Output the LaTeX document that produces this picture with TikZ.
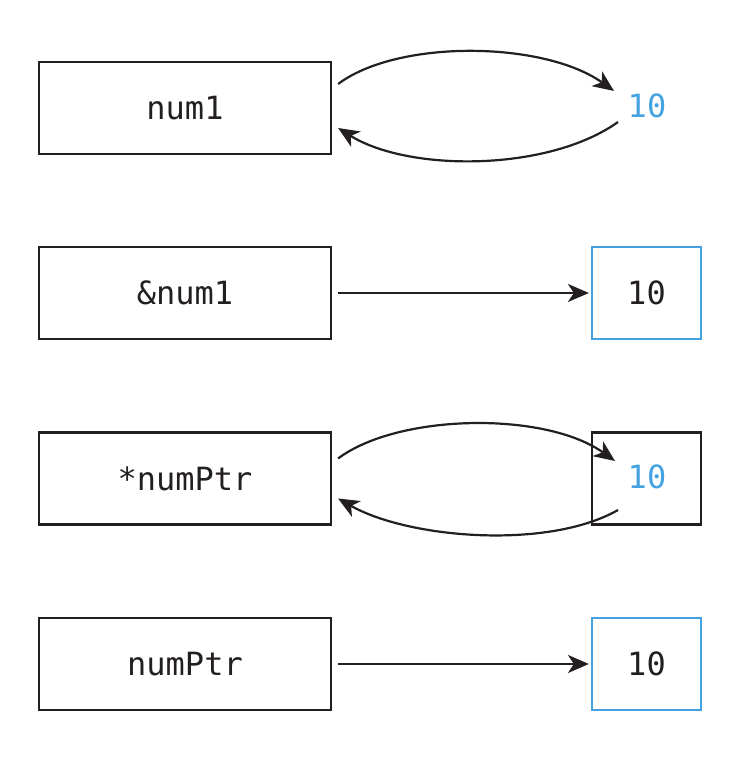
\documentclass[tikz,border=0pt]{standalone}
\usepackage{fontspec}
\usetikzlibrary{arrows.meta}
\newfontfamily\codefont{DejaVu Sans Mono}
\definecolor{ink}{HTML}{231F20}
\definecolor{valblue}{HTML}{45A2E0}
\begin{document}
\begin{tikzpicture}[x=1pt,y=1pt,
  every node/.style={font=\codefont\fontsize{32}{36}\selectfont, text=ink, inner sep=0pt},
  namebox/.style={draw=ink, line width=2.2pt, minimum width=292pt, minimum height=92pt},
  valbox/.style={draw=ink, line width=2.2pt, minimum width=109pt, minimum height=92pt},
  bluebox/.style={valbox, draw=valblue},
  bluetext/.style={text=valblue},
  link/.style={draw=ink, line width=2.2pt, -{Stealth[length=21pt,width=18pt,inset=6pt]}}
]
\useasboundingbox (0,0) rectangle (736,762);

% row 1: variable and its value
\node[namebox] (n1) at (185,654) {num1};
\node[bluetext] (v1) at (647,656) {10};

% row 2: address of the variable
\node[namebox] (n2) at (185,469) {\&num1};
\node[bluebox] (v2) at (646.5,469) {10};

% row 3: dereferenced pointer
\node[namebox] (n3) at (185,283.5) {*numPtr};
\node[valbox] (v3) at (646.5,283.5) {};
\node[bluetext] (t3) at (647,285) {10};

% row 4: the pointer itself
\node[namebox] (n4) at (185,98) {numPtr};
\node[bluebox] (v4) at (646.5,98) {10};

% connectors
\draw[link] ([xshift=6pt,yshift=24pt]n1.east) .. controls +(60,45) and +(-70,50) .. ([xshift=-33pt,yshift=15pt]v1.center);
\draw[link] ([xshift=-29pt,yshift=-16pt]v1.center) .. controls +(-70,-50) and +(70,-44) .. ([xshift=6pt,yshift=-20pt]n1.east);

\draw[link] ([xshift=6pt]n2.east) -- ([xshift=-2pt]v2.west);

\draw[link] ([xshift=6pt,yshift=20pt]n3.east) .. controls +(60,45) and +(-70,50) .. ([xshift=-32pt,yshift=16pt]t3.center);
\draw[link] ([xshift=-29pt,yshift=-33pt]t3.center) .. controls +(-70,-40) and +(70,-40) .. ([xshift=6pt,yshift=-20pt]n3.east);

\draw[link] ([xshift=6pt]n4.east) -- ([xshift=-2pt]v4.west);
\end{tikzpicture}
\end{document}
